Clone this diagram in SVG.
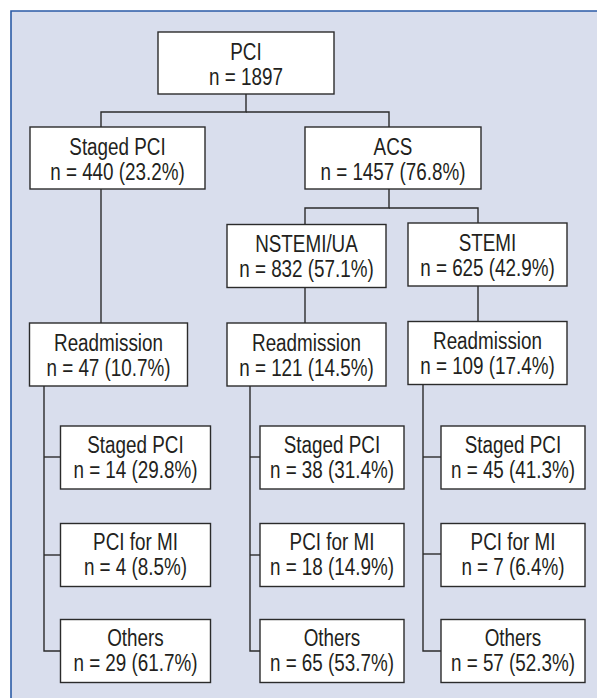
<svg xmlns="http://www.w3.org/2000/svg" width="597" height="698" viewBox="0 0 597 698">
<style>
.bg{fill:#d9deed;stroke:none}
.frame{fill:none;stroke:#2b5ba6;stroke-width:1.6}
.box rect{fill:#ffffff;stroke:#2b2b2b;stroke-width:1.4}
.box text{font-family:"Liberation Sans",Arial,sans-serif;font-size:23px;fill:#231f20;text-anchor:middle;transform:scaleX(0.82);transform-box:fill-box;transform-origin:center}
.conn path{fill:none;stroke:#2b2b2b;stroke-width:1.4}
</style>
<rect x="0" y="0" width="597" height="698" fill="#ffffff"/>
<rect class="bg" x="11" y="11" width="586" height="687"/>
<path class="frame" d="M11,698 V11 H597"/>
<g class="conn" id="connectors">
<path d="M246,94 V112 H101 V127"/>
<path d="M246,112 H389 V127"/>
<path d="M101,189 V323"/>
<path d="M389,189 V208 H305 V224"/>
<path d="M389,208 H478 V223"/>
<path d="M305,287 V323"/>
<path d="M478,286 V322"/>
<path d="M44,386 V651 H60"/>
<path d="M44,457 H60"/>
<path d="M44,555 H60"/>
<path d="M250,386 V651 H260"/>
<path d="M250,457 H260"/>
<path d="M250,555 H260"/>
<path d="M423,384 V651 H441"/>
<path d="M423,457 H441"/>
<path d="M423,554 H441"/>
</g>
<g class="box" id="pci"><rect x="158" y="32" width="176" height="62"/><text x="246" y="60">PCI</text><text x="246" y="85">n = 1897</text></g>
<g class="box" id="staged"><rect x="30" y="127" width="175" height="62"/><text x="117.5" y="155">Staged PCI</text><text x="117.5" y="180">n = 440 (23.2%)</text></g>
<g class="box" id="acs"><rect x="305" y="127" width="176" height="62"/><text x="393" y="155">ACS</text><text x="393" y="180">n = 1457 (76.8%)</text></g>
<g class="box" id="nstemi"><rect x="227" y="224.5" width="159" height="63"/><text x="306.5" y="252.5">NSTEMI/UA</text><text x="306.5" y="277.5">n = 832 (57.1%)</text></g>
<g class="box" id="stemi"><rect x="408" y="223" width="159" height="63"/><text x="487.5" y="251">STEMI</text><text x="487.5" y="276">n = 625 (42.9%)</text></g>
<g class="box" id="readm-left"><rect x="29.5" y="323" width="158" height="63"/><text x="108.5" y="351">Readmission</text><text x="108.5" y="376">n = 47 (10.7%)</text></g>
<g class="box" id="readm-mid"><rect x="227" y="323" width="159" height="63"/><text x="306.5" y="351">Readmission</text><text x="306.5" y="376">n = 121 (14.5%)</text></g>
<g class="box" id="readm-right"><rect x="408" y="321.5" width="159" height="63"/><text x="487.5" y="349.5">Readmission</text><text x="487.5" y="374.5">n = 109 (17.4%)</text></g>
<g class="box" id="l-staged"><rect x="60.5" y="426" width="150" height="63"/><text x="135.5" y="453">Staged PCI</text><text x="135.5" y="478">n = 14 (29.8%)</text></g>
<g class="box" id="l-mi"><rect x="60.5" y="523.5" width="150" height="63"/><text x="135.5" y="550.5">PCI for MI</text><text x="135.5" y="575.5">n = 4 (8.5%)</text></g>
<g class="box" id="l-others"><rect x="60.5" y="619.5" width="150" height="63"/><text x="135.5" y="646.5">Others</text><text x="135.5" y="671.5">n = 29 (61.7%)</text></g>
<g class="box" id="m-staged"><rect x="260" y="426" width="144" height="63"/><text x="332" y="453">Staged PCI</text><text x="332" y="478">n = 38 (31.4%)</text></g>
<g class="box" id="m-mi"><rect x="260" y="523.5" width="144" height="63"/><text x="332" y="550.5">PCI for MI</text><text x="332" y="575.5">n = 18 (14.9%)</text></g>
<g class="box" id="m-others"><rect x="260" y="619.5" width="144" height="63"/><text x="332" y="646.5">Others</text><text x="332" y="671.5">n = 65 (53.7%)</text></g>
<g class="box" id="r-staged"><rect x="441" y="426" width="144" height="63"/><text x="513" y="453">Staged PCI</text><text x="513" y="478">n = 45 (41.3%)</text></g>
<g class="box" id="r-mi"><rect x="441" y="523.5" width="144" height="63"/><text x="513" y="550.5">PCI for MI</text><text x="513" y="575.5">n = 7 (6.4%)</text></g>
<g class="box" id="r-others"><rect x="441" y="619.5" width="144" height="63"/><text x="513" y="646.5">Others</text><text x="513" y="671.5">n = 57 (52.3%)</text></g>
</svg>
